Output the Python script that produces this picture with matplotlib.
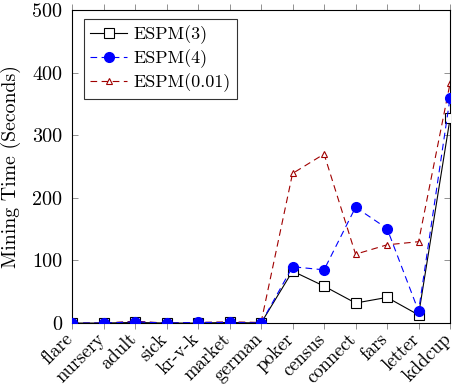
import matplotlib
matplotlib.use("Agg")
import matplotlib.pyplot as plt
import matplotlib.transforms as mtransforms

categories = ["flare", "nursery", "adult", "sick", "kr-v-k", "market", "german",
              "poker", "census", "connect", "fars", "letter", "kddcup"]
espm3 = [0, 0, 1, 0, 0, 1, 0, 83, 59, 32, 41, 13, 327]
espm4 = [0, 0, 2, 0, 1, 1, 0, 90, 85, 185, 151, 19, 360]
espm001 = [0, 0, 3, 0, 1, 2, 1, 239, 270, 110, 125, 130, 383]
yticks = [0, 100, 200, 300, 400, 500]

plt.rcParams['font.family'] = ['cmr10', 'DejaVu Serif']
plt.rcParams['axes.formatter.use_mathtext'] = True

fig = plt.figure(figsize=(4.56, 3.86), dpi=100)
ax = fig.add_axes([0.158, 0.163, 0.829, 0.811])
x = list(range(len(categories)))

ax.plot(x, espm3, color='black', lw=0.8, marker='s', ms=7, mfc='white',
        mec='black', mew=0.8, label='ESPM(3)', zorder=3)
ax.plot(x, espm4, color='blue', lw=0.8, ls=(0, (6, 4)), marker='o', ms=7,
        mfc='blue', mec='blue', label='ESPM(4)', zorder=4)
ax.plot(x, espm001, color='#a00000', lw=0.8, ls=(0, (6, 4)), marker='^', ms=5,
        mfc='white', mec='#a00000', mew=0.8, label='ESPM(0.01)', zorder=2)

ax.set_xlim(0, len(categories) - 1)
ax.set_ylim(0, 500)
ax.set_xticks(x)
ax.set_xticklabels(categories, rotation=45, ha='right', va='top',
                   rotation_mode='anchor', fontsize=13.5)
ax.set_yticks(yticks)
ax.set_yticklabels([str(v) for v in yticks], fontsize=14.5)
ax.set_ylabel('Mining Time (Seconds)', fontsize=14.3)
ax.yaxis.set_label_coords(-0.135, 0.5)

ax.tick_params(axis='x', direction='out', top=True, length=4, color='gray', width=0.6, pad=1)
ax.tick_params(axis='y', direction='in', right=True, length=4, color='gray', width=0.6, pad=7)
for s in ax.spines.values():
    s.set_linewidth(0.8)

offset = mtransforms.ScaledTranslation(-8 / 100, 0, fig.dpi_scale_trans)
for tick in ax.xaxis.get_major_ticks():
    tick.label1.set_transform(tick.label1.get_transform() + offset)

leg = ax.legend(loc='upper left', bbox_to_anchor=(0.032, 0.971), fontsize=13,
                frameon=True, fancybox=False, edgecolor='black', borderaxespad=0,
                handlelength=2.0, borderpad=0.35, labelspacing=0.3, handletextpad=0.4)
leg.get_frame().set_linewidth(0.8)

fig.savefig('out.png', dpi=100)
